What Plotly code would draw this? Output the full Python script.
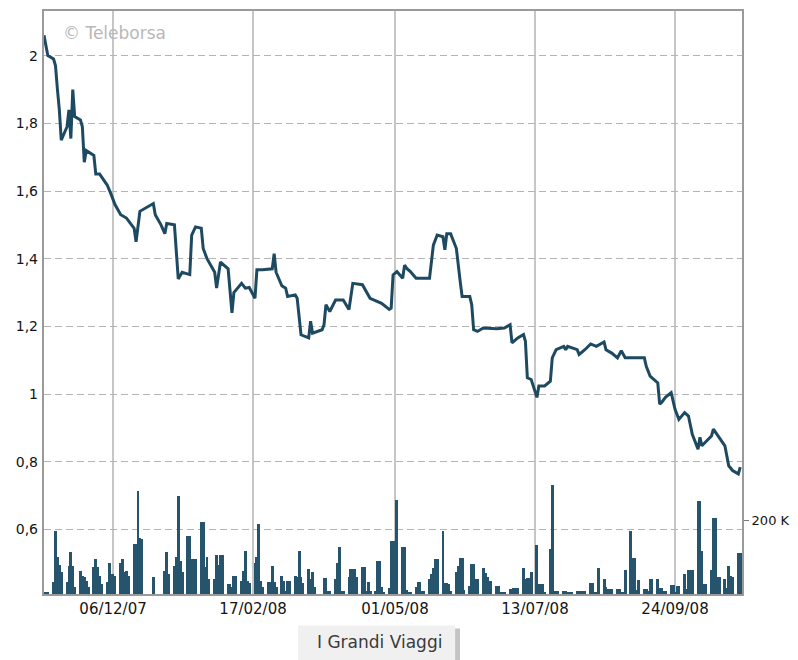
import plotly.graph_objects as go
import pandas as pd

# ---- price series (EUR) ----
price_dates = [
    "2007-10-31", "2007-11-02", "2007-11-05", "2007-11-06", "2007-11-07", "2007-11-08", "2007-11-09",
    "2007-11-12", "2007-11-13", "2007-11-14", "2007-11-15", "2007-11-16", "2007-11-19", "2007-11-20",
    "2007-11-21", "2007-11-22", "2007-11-26", "2007-11-27", "2007-11-29", "2007-12-03", "2007-12-05",
    "2007-12-07", "2007-12-10", "2007-12-13", "2007-12-17", "2007-12-18", "2007-12-20", "2007-12-24",
    "2007-12-27", "2007-12-28", "2007-12-31", "2008-01-02", "2008-01-03", "2008-01-07", "2008-01-08",
    "2008-01-09", "2008-01-11", "2008-01-15", "2008-01-16", "2008-01-18", "2008-01-21", "2008-01-22",
    "2008-01-24", "2008-01-28", "2008-01-29", "2008-01-31", "2008-02-04", "2008-02-05", "2008-02-06",
    "2008-02-07", "2008-02-11", "2008-02-13", "2008-02-15", "2008-02-18", "2008-02-19", "2008-02-22",
    "2008-02-27", "2008-02-28", "2008-02-29", "2008-03-03", "2008-03-05", "2008-03-06", "2008-03-10",
    "2008-03-11", "2008-03-12", "2008-03-13", "2008-03-17", "2008-03-18", "2008-03-19", "2008-03-24",
    "2008-03-25", "2008-03-26", "2008-03-28", "2008-03-31", "2008-04-04", "2008-04-07", "2008-04-09",
    "2008-04-14", "2008-04-18", "2008-04-22", "2008-04-24", "2008-04-28", "2008-04-29", "2008-04-30",
    "2008-05-02", "2008-05-05", "2008-05-06", "2008-05-07", "2008-05-09", "2008-05-12", "2008-05-19",
    "2008-05-21", "2008-05-23", "2008-05-26", "2008-05-27", "2008-05-28", "2008-05-30", "2008-06-02",
    "2008-06-03", "2008-06-04", "2008-06-05", "2008-06-09", "2008-06-10", "2008-06-11", "2008-06-13",
    "2008-06-16", "2008-06-23", "2008-06-27", "2008-06-30", "2008-07-01", "2008-07-04", "2008-07-07",
    "2008-07-08", "2008-07-09", "2008-07-11", "2008-07-14", "2008-07-15", "2008-07-18", "2008-07-21",
    "2008-07-22", "2008-07-24", "2008-07-28", "2008-07-29", "2008-07-30", "2008-08-04", "2008-08-05",
    "2008-08-08", "2008-08-11", "2008-08-14", "2008-08-18", "2008-08-19", "2008-08-22", "2008-08-25",
    "2008-08-27", "2008-08-29", "2008-09-08", "2008-09-09", "2008-09-11", "2008-09-15", "2008-09-16",
    "2008-09-17", "2008-09-19", "2008-09-22", "2008-09-23", "2008-09-24", "2008-09-26", "2008-09-29",
    "2008-10-01", "2008-10-03", "2008-10-06", "2008-10-07", "2008-10-08", "2008-10-13", "2008-10-14",
    "2008-10-17", "2008-10-20", "2008-10-22", "2008-10-24", "2008-10-27", "2008-10-28",
]
price_values = [
    2.06, 2.00, 1.99, 1.97, 1.90, 1.84, 1.75,
    1.79, 1.84, 1.755, 1.90, 1.82, 1.81, 1.79,
    1.685, 1.72, 1.705, 1.65, 1.65, 1.617, 1.59,
    1.56, 1.53, 1.52, 1.49, 1.45, 1.54, 1.553,
    1.563, 1.53, 1.50, 1.474, 1.504, 1.50, 1.41,
    1.34, 1.36, 1.353, 1.47, 1.494, 1.49, 1.43,
    1.40, 1.36, 1.313, 1.39, 1.37, 1.30, 1.24,
    1.30, 1.327, 1.313, 1.315, 1.283, 1.367, 1.367,
    1.37, 1.415, 1.36, 1.32, 1.313, 1.288, 1.293,
    1.283, 1.224, 1.175, 1.166, 1.215, 1.18, 1.19,
    1.205, 1.264, 1.244, 1.278, 1.278, 1.25, 1.327,
    1.323, 1.283, 1.274, 1.268, 1.25, 1.254, 1.352,
    1.362, 1.342, 1.381, 1.372, 1.362, 1.342, 1.342,
    1.44, 1.47, 1.465, 1.426, 1.474, 1.474, 1.43,
    1.372, 1.332, 1.288, 1.288, 1.264, 1.19, 1.185,
    1.195, 1.193, 1.195, 1.205, 1.151, 1.166, 1.176,
    1.156, 1.048, 1.043, 0.99, 1.024, 1.024, 1.038,
    1.107, 1.131, 1.141, 1.131, 1.141, 1.131, 1.117,
    1.131, 1.148, 1.141, 1.154, 1.131, 1.121, 1.107,
    1.128, 1.107, 1.107, 1.082, 1.053, 1.033, 0.97,
    0.975, 0.99, 1.004, 0.98, 0.955, 0.925, 0.945,
    0.935, 0.881, 0.837, 0.872, 0.847, 0.876, 0.896,
    0.872, 0.847, 0.788, 0.774, 0.764, 0.784,
]

# ---- daily volume (thousands of shares), one value per weekday ----
volume_dates = pd.bdate_range("2007-10-31", "2008-10-28")
volume_k = [
    4, 4, 5,
    32, 171, 100, 78, 60,
    32, 77, 113, 77, 18,
    63, 50, 45, 36, 20,
    72, 95, 72, 50, 27,
    32, 83, 54, 54, 50,
    83, 95, 59, 63, 50,
    135, 135, 279, 153, 150,
    0, 0, 0, 45, 0,
    0, 0, 63, 113, 54,
    77, 99, 266, 90, 60,
    158, 158, 95, 95, 95,
    194, 194, 72, 99, 41,
    41, 106, 80, 106, 106,
    27, 27, 20, 50, 50,
    36, 63, 117, 36, 30,
    83, 99, 189, 36, 20,
    32, 32, 77, 32, 20,
    50, 36, 9, 36, 36,
    50, 45, 117, 45, 30,
    68, 41, 61, 20, 0,
    0, 43, 43, 9, 9,
    40, 83, 128, 9, 9,
    45, 68, 68, 68, 45,
    72, 72, 9, 32, 9,
    9, 90, 90, 18, 5,
    16, 145, 145, 0, 256,
    127, 127, 10, 4, 4,
    19, 32, 32, 8, 8,
    40, 55, 71, 94, 94,
    172, 31, 31, 26, 8,
    60, 76, 98, 98, 10,
    22, 82, 82, 42, 42,
    71, 58, 46, 35, 35,
    22, 22, 5, 5, 5,
    13, 13, 15, 15, 15,
    71, 40, 44, 44, 60,
    132, 26, 26, 26, 5,
    121, 295, 8, 8, 8,
    8, 8, 4, 4, 4,
    8, 8, 8, 8, 8,
    31, 31, 4, 4, 71,
    40, 19, 13, 13, 13,
    13, 13, 4, 4, 64,
    172, 98, 98, 10, 37,
    13, 13, 8, 42, 42,
    42, 17, 17, 8, 8,
    24, 24, 5, 22, 22,
    53, 13, 65, 65, 65,
    253, 253, 116, 26, 26,
    65, 205, 205, 46, 46,
    42, 15, 76, 49, 46,
    112, 112,
]

x_tick_dates = ["2007-12-06", "2008-02-17", "2008-05-01", "2008-07-13", "2008-09-24"]
x_tick_labels = ["06/12/07", "17/02/08", "01/05/08", "13/07/08", "24/09/08"]
price_ticks = [0.6, 0.8, 1.0, 1.2, 1.4, 1.6, 1.8, 2.0]
price_tick_labels = ["0,6", "0,8", "1", "1,2", "1,4", "1,6", "1,8", "2"]
volume_ticks = [200]
volume_tick_labels = ["200 K"]

LINE = "#1e4a61"
BAR = "#26546d"
FONT = "DejaVu Sans"
TXT = "#141414"
DAY_MS = 86400000

fig = go.Figure()
fig.add_trace(go.Bar(
    x=volume_dates, y=volume_k, yaxis="y",
    marker=dict(color=BAR, line=dict(width=0)),
    width=1.5 * DAY_MS, showlegend=False, hoverinfo="skip",
))
fig.add_trace(go.Scatter(
    x=price_dates, y=price_values, yaxis="y2", mode="lines",
    line=dict(color=LINE, width=3), showlegend=False,
))

fig.update_layout(
    width=790, height=652,
    margin=dict(l=36, r=56, t=1, b=66),
    paper_bgcolor="white", plot_bgcolor="white",
    bargap=0,
    font=dict(family=FONT, size=14, color=TXT),
    xaxis=dict(
        type="date",
        range=["2007-10-31", "2008-10-28 22:00"],
        tickvals=x_tick_dates, ticktext=x_tick_labels,
        tickfont=dict(size=15, color=TXT),
        showgrid=True, gridcolor="#c6c6c6", gridwidth=1.5,
        showline=True, linecolor="#9a9a9a", linewidth=2, mirror=True,
        ticks="", zeroline=False,
    ),
    yaxis=dict(
        side="right", range=[0, 1581],
        tickvals=volume_ticks, ticktext=volume_tick_labels,
        ticks="outside", ticklen=5, tickcolor="#777777", tickwidth=1,
        ticklabelstandoff=0,
        tickfont=dict(size=13, color=TXT),
        showgrid=False, zeroline=False,
        showline=True, linecolor="#9a9a9a", linewidth=2, mirror=True,
    ),
    yaxis2=dict(
        overlaying="y", side="left", range=[0.409, 2.132],
        tickvals=price_ticks, ticktext=price_tick_labels,
        tickfont=dict(size=14, color=TXT),
        ticklabelstandoff=5,
        showgrid=True, gridcolor="#b4b4b4", gridwidth=1, griddash="7px,4px",
        zeroline=False, showline=False, ticks="",
    ),
    annotations=[
        dict(text="© Teleborsa", xref="paper", yref="paper", x=0.024, y=0.963,
             xanchor="left", yanchor="middle", showarrow=False,
             font=dict(family=FONT, size=17, color="#b8b8b8")),
        dict(text="I Grandi Viaggi", xref="paper", yref="paper", x=0.48, y=-0.082,
             xanchor="center", yanchor="middle", showarrow=False,
             font=dict(family=FONT, size=17, color="#3a3a3a")),
    ],
    shapes=[
        dict(type="rect", xref="paper", yref="paper", x0=0.367, x1=0.596, y0=-0.123, y1=-0.059,
             fillcolor="#c4c4c4", line=dict(width=0), layer="below"),
        dict(type="rect", xref="paper", yref="paper", x0=0.364, x1=0.589, y0=-0.116, y1=-0.054,
             fillcolor="#f0f0f0", line=dict(width=0), layer="below"),
    ],
)

fig.write_html("out.html")
